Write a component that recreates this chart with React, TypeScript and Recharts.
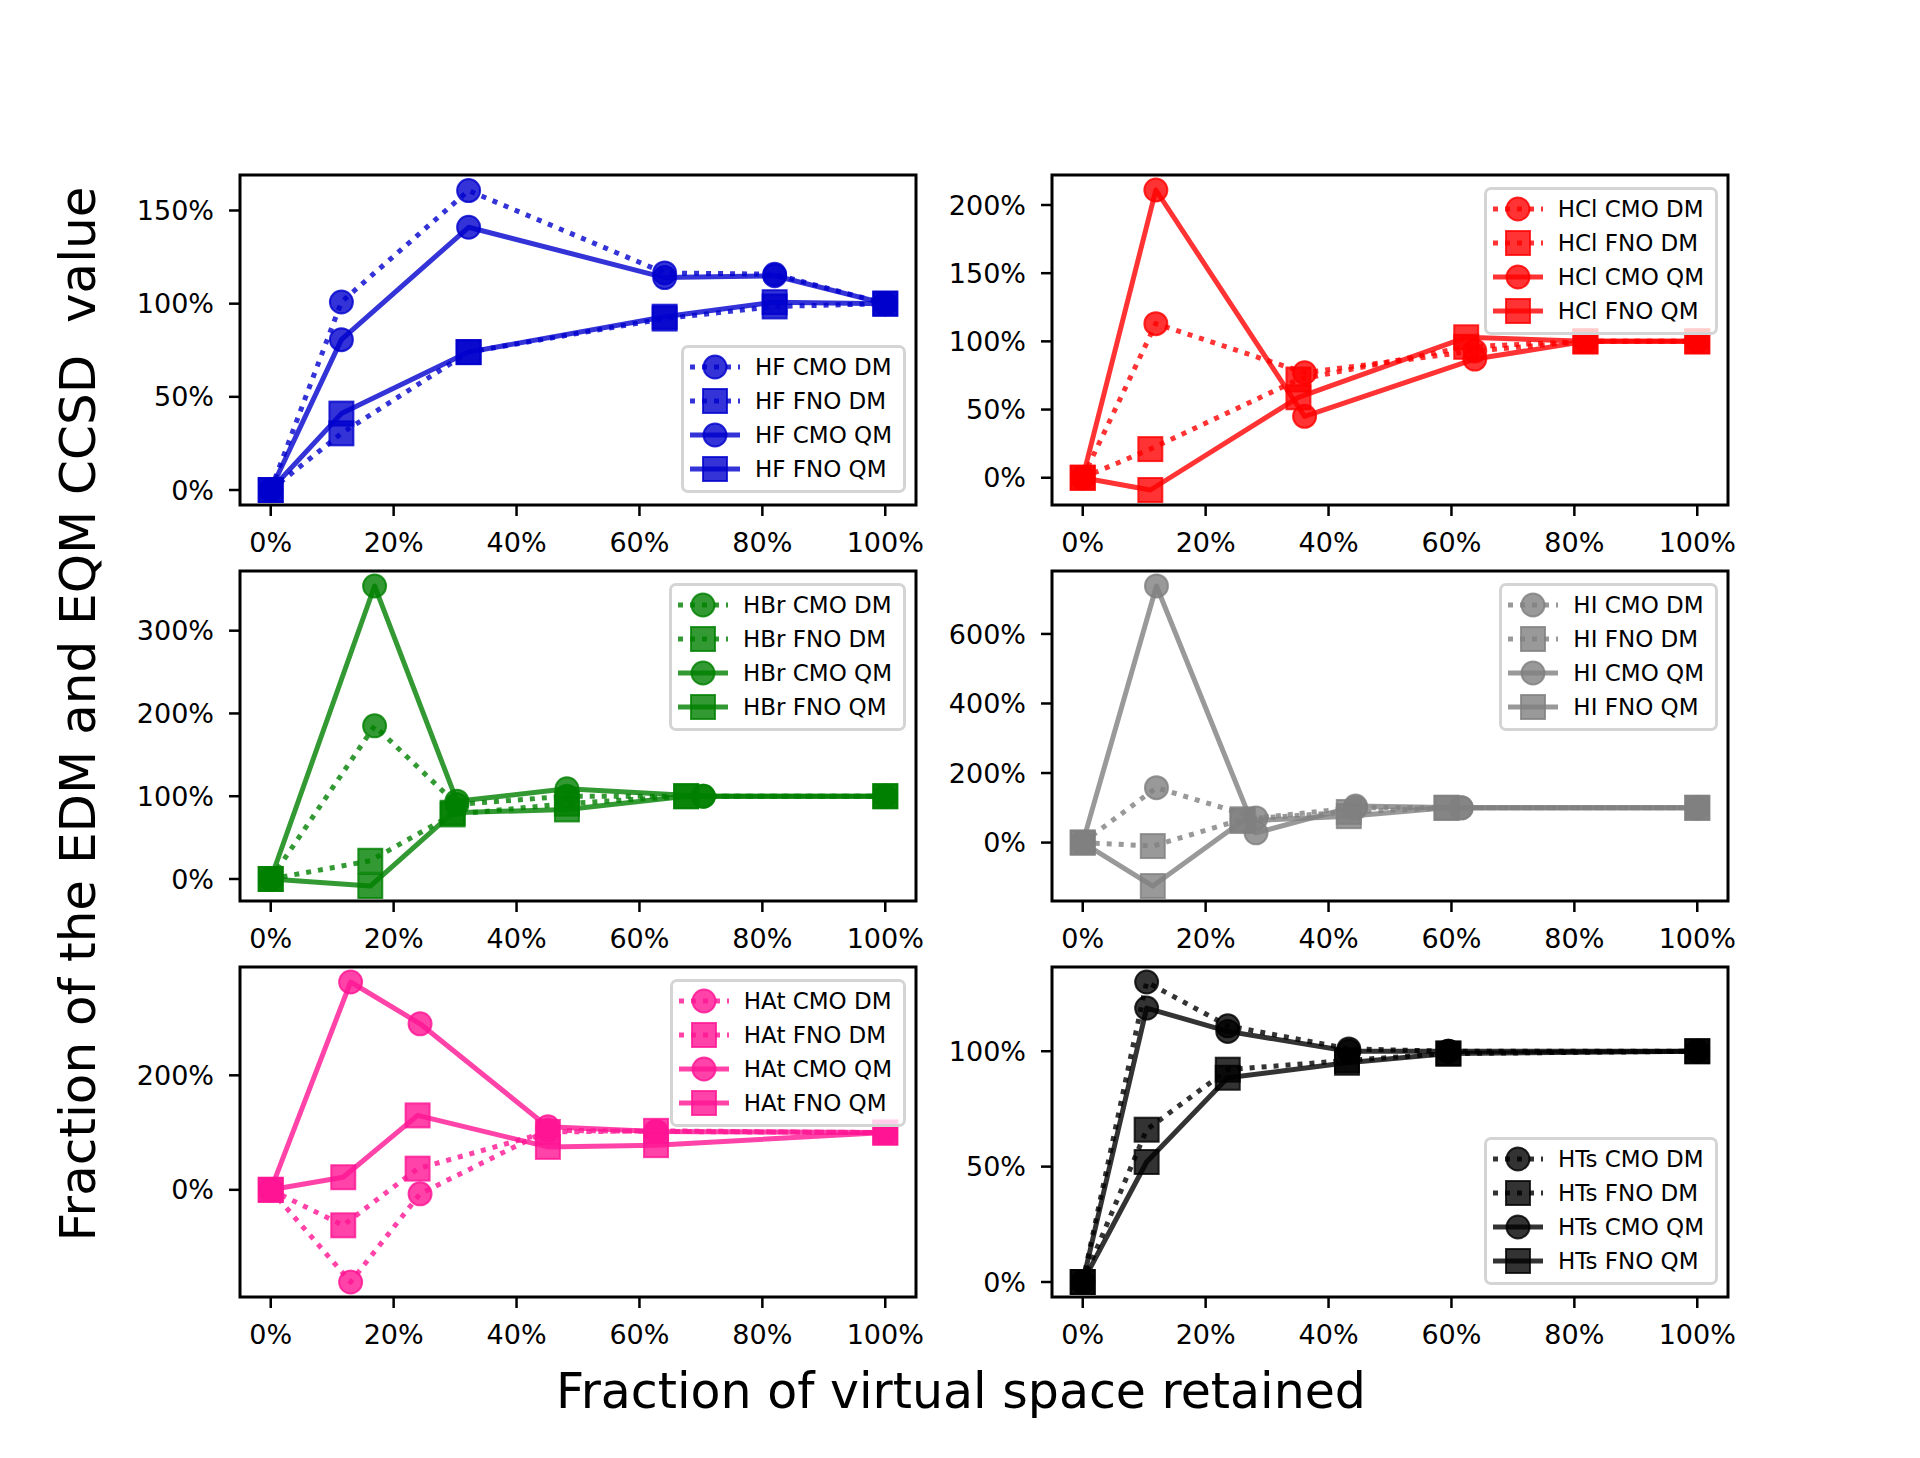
import React from 'react';
import { LineChart, Line, XAxis, YAxis, ReferenceArea, Legend } from 'recharts';

const FONT = '"DejaVu Sans", "Liberation Sans", sans-serif';

// ---------- shared tick labels ----------
const xTicks = [0, 20, 40, 60, 80, 100];

// ---------- HF ----------
const hfCmoX = [0, 11.5, 32.2, 64.1, 82.0, 100];
const hfFnoX = [0, 11.5, 32.2, 64.1, 82.0, 100];
const hfCmoDM = [0, 100.9, 160.7, 116.5, 115.8, 100];
const hfFnoDM = [0, 30.4, 74, 92, 98.5, 100];
const hfCmoQM = [0, 80.7, 141, 114, 115, 100];
const hfFnoQM = [0, 41, 74, 93, 100.8, 100];
const hfYTicks = [0, 50, 100, 150];

// ---------- HCl ----------
const hclCmoX = [0, 11.9, 36.1, 63.8, 81.8, 100];
const hclFnoX = [0, 11.0, 35.1, 62.4, 81.8, 100];
const hclCmoDM = [0, 113, 77, 93, 100, 100];
const hclFnoDM = [0, 21, 72, 96, 100, 100];
const hclCmoQM = [0, 211, 45, 87, 100, 100];
const hclFnoQM = [0, -9, 59, 103, 100, 100];
const hclYTicks = [0, 50, 100, 150, 200];

// ---------- HBr ----------
const hbrCmoX = [0, 16.9, 30.3, 48.2, 70.4, 100];
const hbrFnoX = [0, 16.2, 29.6, 48.2, 67.6, 100];
const hbrCmoDM = [0, 185, 90, 100, 100, 100];
const hbrFnoDM = [0, 22, 78, 91, 100, 100];
const hbrCmoQM = [0, 354, 94, 109, 100, 100];
const hbrFnoQM = [0, -8.5, 80, 84, 100, 100];
const hbrYTicks = [0, 100, 200, 300];

// ---------- HI ----------
const hiCmoX = [0, 12.0, 28.2, 44.4, 61.6, 100];
const hiFnoX = [0, 11.4, 26.0, 43.3, 59.2, 100];
const hiCmoDM = [0, 158, 71, 100, 100, 100];
const hiFnoDM = [0, -10, 67, 88, 100, 100];
const hiCmoQM = [0, 738, 28, 105, 100, 100];
const hiFnoQM = [0, -125, 62, 76, 100, 100];
const hiYTicks = [0, 200, 400, 600];

// ---------- HAt ----------
const hatCmoX = [0, 13.0, 24.3, 45.1, 62.7, 100];
const hatFnoX = [0, 11.8, 23.9, 45.1, 62.7, 100];
const hatCmoDM = [0, -161, -7, 104, 102, 100];
const hatFnoDM = [0, -62, 37, 101, 103, 100];
const hatCmoQM = [0, 363, 290, 110, 102, 100];
const hatFnoQM = [0, 22, 130, 75, 78, 100];
const hatYTicks = [0, 200];

// ---------- HTs ----------
const htsCmoX = [0, 10.4, 23.6, 43.3, 59.5, 100];
const htsFnoX = [0, 10.4, 23.6, 43.0, 59.5, 100];
const htsCmoDM = [0, 130, 111, 101, 100, 100];
const htsFnoDM = [0, 66, 92, 96, 99, 100];
const htsCmoQM = [0, 118.7, 108.6, 100, 100, 100];
const htsFnoQM = [0, 52, 88.5, 95, 99, 100];
const htsYTicks = [0, 50, 100];

type Marker = 'circle' | 'square';
type Series = { name: string; xs: number[]; ys: number[]; dotted: boolean; marker: Marker };
type Panel = {
  mol: string;
  color: string;
  series: Series[];
  yDomain: [number, number];
  yTicks: number[];
  left: number;
  top: number;
  legend: 'upper' | 'lower';
};

const mk = (
  mol: string,
  cmoX: number[],
  fnoX: number[],
  cmoDM: number[],
  fnoDM: number[],
  cmoQM: number[],
  fnoQM: number[]
): Series[] => [
  { name: `${mol} CMO DM`, xs: cmoX, ys: cmoDM, dotted: true, marker: 'circle' },
  { name: `${mol} FNO DM`, xs: fnoX, ys: fnoDM, dotted: true, marker: 'square' },
  { name: `${mol} CMO QM`, xs: cmoX, ys: cmoQM, dotted: false, marker: 'circle' },
  { name: `${mol} FNO QM`, xs: fnoX, ys: fnoQM, dotted: false, marker: 'square' },
];

const COL = [240, 1052];
const ROW = [175, 571, 967];
const PW = 676;
const PH = 330;

const panels: Panel[] = [
  { mol: 'HF', color: '#0000CD', series: mk('HF', hfCmoX, hfFnoX, hfCmoDM, hfFnoDM, hfCmoQM, hfFnoQM), yDomain: [-8.05, 169.05], yTicks: hfYTicks, left: COL[0], top: ROW[0], legend: 'lower' },
  { mol: 'HCl', color: '#FF0000', series: mk('HCl', hclCmoX, hclFnoX, hclCmoDM, hclFnoDM, hclCmoQM, hclFnoQM), yDomain: [-20, 222], yTicks: hclYTicks, left: COL[1], top: ROW[0], legend: 'upper' },
  { mol: 'HBr', color: '#008000', series: mk('HBr', hbrCmoX, hbrFnoX, hbrCmoDM, hbrFnoDM, hbrCmoQM, hbrFnoQM), yDomain: [-26.6, 372.1], yTicks: hbrYTicks, left: COL[0], top: ROW[1], legend: 'upper' },
  { mol: 'HI', color: '#808080', series: mk('HI', hiCmoX, hiFnoX, hiCmoDM, hiFnoDM, hiCmoQM, hiFnoQM), yDomain: [-168, 781], yTicks: hiYTicks, left: COL[1], top: ROW[1], legend: 'upper' },
  { mol: 'HAt', color: '#FF1493', series: mk('HAt', hatCmoX, hatFnoX, hatCmoDM, hatFnoDM, hatCmoQM, hatFnoQM), yDomain: [-187.2, 389.2], yTicks: hatYTicks, left: COL[0], top: ROW[2], legend: 'upper' },
  { mol: 'HTs', color: '#000000', series: mk('HTs', htsCmoX, htsFnoX, htsCmoDM, htsFnoDM, htsCmoQM, htsFnoQM), yDomain: [-6.5, 136.5], yTicks: htsYTicks, left: COL[1], top: ROW[2], legend: 'lower' },
];

const ALPHA = 0.8;
const LW = 5;
const DOTS = '5 7';
const R = 11.5;
const SQ = 24;

const MarkerShape = ({ marker, color, cx, cy }: { marker: Marker; color: string; cx: number; cy: number }) =>
  marker === 'circle' ? (
    <circle cx={cx} cy={cy} r={R} fill={color} fillOpacity={ALPHA} stroke={color} strokeOpacity={ALPHA} strokeWidth={2} />
  ) : (
    <rect x={cx - SQ / 2} y={cy - SQ / 2} width={SQ} height={SQ} fill={color} fillOpacity={ALPHA} stroke={color} strokeOpacity={ALPHA} strokeWidth={2} />
  );

const makeDot = (marker: Marker, color: string) => (props: any) => {
  const { cx, cy, index } = props;
  if (cx == null || cy == null || Number.isNaN(cx) || Number.isNaN(cy)) return <g key={`d-${index}`} />;
  return (
    <g key={`d-${index}`}>
      <MarkerShape marker={marker} color={color} cx={cx} cy={cy} />
    </g>
  );
};

const ROWH = 34;
const LEG_H = 3 + 2 + ROWH * 4 + 4 + 3;

const LegendBox = ({ names, series, color }: { names: string[]; series: Series[]; color: string }) => {
  // keep the plotting order (matplotlib legend order), only entries known to the legend
  const filtered = series.filter((s) => names.length === 0 || names.includes(s.name));
  const list = filtered.length ? filtered : series;
  return (
    <div
      style={{
        border: '3px solid #d4d4d4',
        borderRadius: 7,
        background: 'rgba(255,255,255,0.8)',
        padding: '2px 11px 4px 6px',
        fontFamily: FONT,
        fontSize: 23,
        color: '#000',
        lineHeight: 1,
        boxSizing: 'border-box',
      }}
    >
      {list.map((it) => (
        <div key={it.name} style={{ display: 'flex', alignItems: 'center', height: ROWH }}>
          <svg width={50} height={30} style={{ display: 'block', overflow: 'visible' }}>
            <line
              x1={0}
              x2={50}
              y1={15}
              y2={15}
              stroke={color}
              strokeOpacity={ALPHA}
              strokeWidth={LW}
              strokeDasharray={it.dotted ? DOTS : undefined}
            />
            <MarkerShape marker={it.marker} color={color} cx={25} cy={15} />
          </svg>
          <span style={{ marginLeft: 15, whiteSpace: 'nowrap' }}>{it.name}</span>
        </div>
      ))}
    </div>
  );
};

const YW = 130; // y-axis width
const MT = 10;
const MR = 10;
const XH = 70;

const PanelChart = ({ p }: { p: Panel }) => {
  const W = YW + PW + MR;
  const H = MT + PH + XH;
  const legendTop = p.legend === 'upper' ? MT + 12 : MT + PH - 12 - LEG_H;
  const tickStyle = { fontFamily: FONT, fontSize: 27, fill: '#000' };
  return (
    <div style={{ position: 'absolute', left: p.left - YW, top: p.top - MT, width: W, height: H }}>
      <LineChart width={W} height={H} margin={{ top: MT, right: MR, bottom: 0, left: 0 }}>
        <XAxis
          dataKey="x"
          type="number"
          domain={[-5, 105]}
          ticks={xTicks}
          tickFormatter={(v: number) => `${v}%`}
          axisLine={false}
          tickLine={{ stroke: '#000', strokeWidth: 2.5 }}
          tickSize={11}
          tickMargin={17}
          height={XH}
          tick={tickStyle}
          interval={0}
          allowDataOverflow
        />
        <YAxis
          type="number"
          domain={p.yDomain}
          ticks={p.yTicks}
          tickFormatter={(v: number) => `${v}%`}
          axisLine={false}
          tickLine={{ stroke: '#000', strokeWidth: 2.5 }}
          tickSize={11}
          tickMargin={15}
          width={YW}
          tick={tickStyle}
          interval={0}
          allowDataOverflow
        />
        {p.series.map((s) => (
          <Line
            key={s.name}
            name={s.name}
            data={s.xs.map((x, i) => ({ x, y: s.ys[i] }))}
            dataKey="y"
            type="linear"
            stroke={p.color}
            strokeOpacity={ALPHA}
            strokeWidth={LW}
            strokeDasharray={s.dotted ? DOTS : undefined}
            strokeLinejoin="round"
            dot={makeDot(s.marker, p.color)}
            activeDot={false}
            isAnimationActive={false}
          />
        ))}
        <ReferenceArea
          x1={-5}
          x2={105}
          y1={p.yDomain[0]}
          y2={p.yDomain[1]}
          fill="none"
          fillOpacity={0}
          stroke="#000"
          strokeWidth={3}
          ifOverflow="visible"
        />
        <Legend
          layout="vertical"
          align="center"
          verticalAlign="middle"
          wrapperStyle={{ top: legendTop, right: MR + 10, left: 'auto', bottom: 'auto', width: 'auto', height: 'auto' }}
          content={(props: any) => (
            <LegendBox
              names={(props.payload || []).map((e: any) => String(e.value))}
              series={p.series}
              color={p.color}
            />
          )}
        />
      </LineChart>
    </div>
  );
};

export default function App() {
  return (
    <div style={{ position: 'absolute', left: 0, top: 0, width: 1920, height: 1458, background: '#fff', overflow: 'hidden' }}>
      {panels.map((p) => (
        <PanelChart key={p.mol} p={p} />
      ))}
      <svg width={1920} height={1458} style={{ position: 'absolute', left: 0, top: 0, pointerEvents: 'none' }}>
        <text
          x={95}
          y={714}
          transform="rotate(-90 95 714)"
          textAnchor="middle"
          fontFamily={FONT}
          fontSize={50}
          fill="#000"
          style={{ whiteSpace: 'pre' }}
        >
          {'Fraction of the EDM and EQM CCSD  value'}
        </text>
        <text x={961} y={1408} textAnchor="middle" fontFamily={FONT} fontSize={49} fill="#000">
          Fraction of virtual space retained
        </text>
      </svg>
    </div>
  );
}
